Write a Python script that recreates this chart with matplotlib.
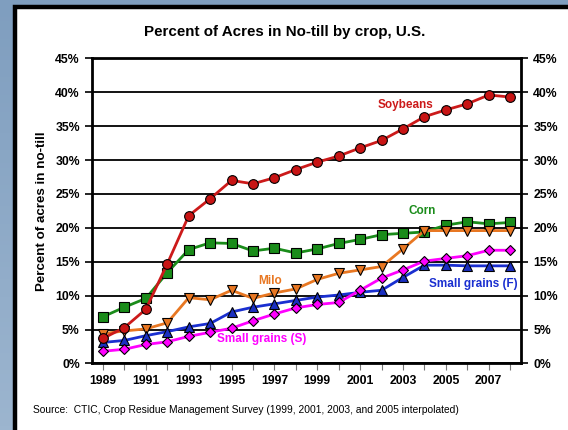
import matplotlib.pyplot as plt
import numpy as np
from matplotlib.patches import Rectangle
from matplotlib.colors import LinearSegmentedColormap

plt.rcParams['font.family'] = ['Liberation Sans', 'DejaVu Sans']

years = list(range(1989, 2009))
soybeans = [3.7, 5.3, 8.0, 14.7, 21.8, 24.3, 27.0, 26.5, 27.4, 28.6,
            29.7, 30.6, 31.8, 32.9, 34.6, 36.4, 37.4, 38.3, 39.6, 39.3]
corn = [6.9, 8.3, 9.6, 13.4, 16.8, 17.8, 17.7, 16.6, 17.0, 16.3,
        16.9, 17.7, 18.3, 19.0, 19.2, 19.4, 20.4, 20.9, 20.6, 20.8]
milo = [4.4, 4.8, 5.1, 6.0, 9.7, 9.4, 10.8, 9.6, 10.4, 11.0,
        12.4, 13.3, 13.8, 14.3, 16.9, 19.6, 19.6, 19.6, 19.6, 19.6]
small_grains_f = [3.1, 3.4, 4.1, 4.7, 5.4, 5.9, 7.6, 8.3, 8.8, 9.3,
                  9.8, 10.1, 10.5, 10.8, 12.7, 14.5, 14.5, 14.4, 14.4, 14.4]
small_grains_s = [1.8, 2.1, 2.8, 3.2, 4.0, 4.6, 5.2, 6.3, 7.3, 8.2,
                  8.7, 9.0, 10.8, 12.6, 13.8, 15.1, 15.5, 15.9, 16.7, 16.7]

fig = plt.figure(figsize=(5.68, 4.3), dpi=100, facecolor='#88a6c4')

# blue-gray gradient background
bg = fig.add_axes([0, 0, 1, 1], zorder=-10)
bg.axis('off')
cmap = LinearSegmentedColormap.from_list('bg', ['#7f9ebf', '#9cb5cf'])
bg.imshow(np.linspace(0, 1, 100).reshape(-1, 1), cmap=cmap, aspect='auto',
          extent=(0, 1, 0, 1), origin='upper')

# white panel with black frame (left/top visible)
fig.patches.append(Rectangle((15 / 568, -0.05), 1.2, 1 - 7 / 430 + 0.05,
                             transform=fig.transFigure, facecolor='white',
                             edgecolor='black', lw=3.2, zorder=-5))

ax = fig.add_axes([0.1625, 0.1547, 0.917 - 0.1625, 0.8642 - 0.1547])
ax.set_facecolor('white')
ax.set_zorder(2)

ax.plot(years, corn, color='#1a8c1a', lw=2, marker='s', ms=7.5,
        mfc='#1a8c1a', mec='black', mew=0.8, zorder=3)
ax.plot(years, milo, color='#e87722', lw=2, marker='v', ms=7,
        mfc='#e87722', mec='black', mew=0.8, zorder=3)
ax.plot(years, small_grains_f, color='#1a2fd0', lw=2, marker='^', ms=7,
        mfc='#1a2fc0', mec='black', mew=0.8, zorder=3)
ax.plot(years, small_grains_s, color='#ff00ff', lw=2, marker='D', ms=5,
        mfc='#ff00ff', mec='black', mew=0.8, zorder=3)
ax.plot(years, soybeans, color='#cc1a1a', lw=2, marker='o', ms=7,
        mfc='#c81414', mec='black', mew=0.8, zorder=4)

ax.set_xlim(1988.5, 2008.5)
ax.set_ylim(0, 45)
yt = list(range(0, 50, 5))
ax.set_yticks(yt)
ax.set_yticklabels([f'{v}%' for v in yt], fontsize=8.8, fontweight='bold')
ax.set_xticks(years)
ax.set_xticklabels([str(y) if y % 2 == 1 else '' for y in years],
                   fontsize=8.8, fontweight='bold')
ax.tick_params(axis='x', direction='out', length=5, color='#777777', pad=3)
ax.tick_params(axis='y', direction='out', length=5, width=1.2, right=True,
               labelright=True, pad=4)
ax.yaxis.grid(True, color='black', lw=1.3)
ax.set_axisbelow(True)
for s in ax.spines.values():
    s.set_linewidth(2)

ax.set_ylabel('Percent of acres in no-till', fontsize=9.6, fontweight='bold',
              labelpad=5)

# series labels
ax.text(2003.1, 38.1, 'Soybeans', color='#cc1a1a', fontsize=8.5,
        fontweight='bold', ha='center', va='center')
ax.text(2003.9, 22.5, 'Corn', color='#1a8c1a', fontsize=8.5,
        fontweight='bold', ha='center', va='center')
ax.text(1996.8, 12.1, 'Milo', color='#e87722', fontsize=8.5,
        fontweight='bold', ha='center', va='center')
ax.text(1996.4, 3.6, 'Small grains (S)', color='#ff00ff', fontsize=8.5,
        fontweight='bold', ha='center', va='center')
ax.text(2006.3, 11.7, 'Small grains (F)', color='#1a2fd0', fontsize=8.5,
        fontweight='bold', ha='center', va='center')

fig.text(0.501, 1 - 32 / 430, 'Percent of Acres in No-till by crop, U.S.',
         fontsize=10.9, fontweight='bold', ha='center', va='center')
fig.text(33 / 568, 1 - 410 / 430,
         'Source:  CTIC, Crop Residue Management Survey (1999, 2001, 2003, and 2005 interpolated)',
         fontsize=7.35, ha='left', va='center')

fig.savefig('out.png', dpi=100, facecolor=fig.get_facecolor())
